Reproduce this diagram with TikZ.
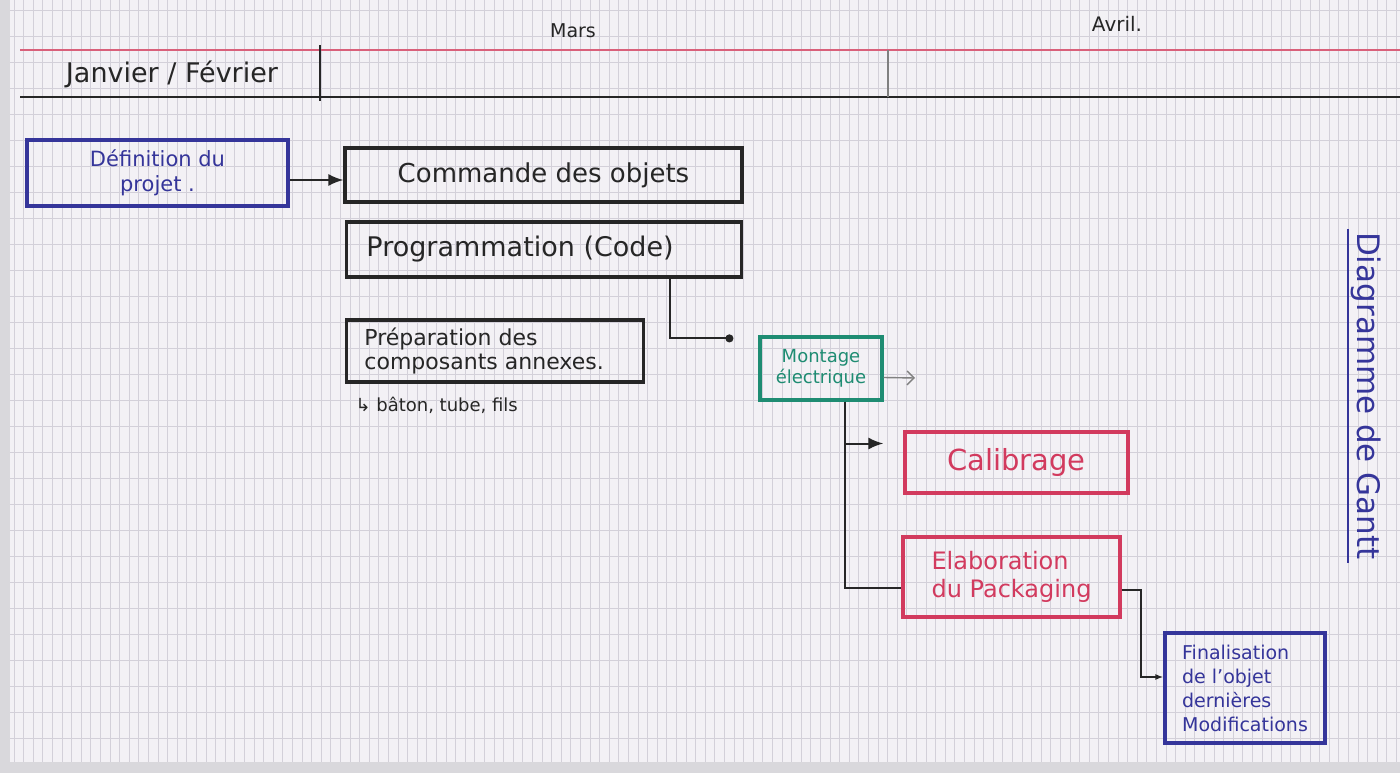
\documentclass[tikz,border=0pt]{standalone}
\usepackage{fontspec}
\setmainfont{DejaVu Sans}
\usetikzlibrary{arrows.meta}
\usetikzlibrary{calc}

\definecolor{paper}{HTML}{F3F1F5}
\definecolor{margin}{HTML}{D9D8DC}
\definecolor{gridline}{HTML}{D3D0D9}
\definecolor{pinkline}{HTML}{D9607A}
\definecolor{bleu}{HTML}{35359A}
\definecolor{vert}{HTML}{1E8C72}
\definecolor{rouge}{HTML}{D23A5E}
\definecolor{encre}{HTML}{262626}

\begin{document}
\begin{tikzpicture}[x=1pt,y=-1pt,
	tache/.style={draw,line width=3.2pt,inner sep=4pt,align=center,font=\fontsize{22}{26}\selectfont},
	lien/.style={draw=encre,line width=2pt},
	mois/.style={text=encre,inner sep=1pt}]
	\useasboundingbox (0,0) rectangle (1400,773);
	\fill[margin] (0,0) rectangle (1400,773);
	\fill[paper] (10,0) rectangle (1400,762);
	\foreach \x in {14,23.6,...,1400} \draw[gridline,line width=0.8pt] (\x,0) -- (\x,762);
	\foreach \y in {10,36,...,762} \draw[gridline,line width=0.8pt] (10,\y) -- (1400,\y);
	\draw[pinkline,line width=2pt] (20,50) -- (1400,50);
	\draw[encre,line width=2pt] (20,97) -- (1400,97);
	\draw[encre,line width=2.8pt] (320,45) -- (320,101);
	\draw[gray,line width=1.6pt] (888,50) -- (888,97);
	\node[mois,font=\fontsize{27}{30}\selectfont] (janfev) at (172,74) {Janvier / Février};
	\node[mois,font=\fontsize{19}{22}\selectfont] (mars) at (573,31) {Mars};
	\node[mois,font=\fontsize{20}{22}\selectfont] (avril) at (1117,24) {Avril.};

	\node[tache,draw=bleu,text=bleu,minimum width=261,minimum height=66,font=\fontsize{21}{25}\selectfont] (def) at (157.5,173) {Définition du\\projet .};
	\node[tache,draw=encre,text=encre,minimum width=397,minimum height=54,font=\fontsize{26}{30}\selectfont] (cmd) at (543.5,175) {Commande des objets};
	\node[tache,draw=encre,text=encre,minimum width=395,minimum height=55,font=\fontsize{27}{30}\selectfont,anchor=west] (prog) at (345,249.5) {Programmation (Code)\hspace*{48pt}};
	\node[tache,draw=encre,text=encre,minimum width=297,minimum height=62,inner sep=3pt,align=left,font=\fontsize{22}{24}\selectfont,anchor=west] (prep) at (345,351) {Préparation des\\composants annexes.\hspace*{22pt}};
	\node[text=encre,font=\fontsize{18}{20}\selectfont,anchor=west] (note) at (352,405) {↳ bâton, tube, fils};
	\node[tache,draw=vert,text=vert,minimum width=122,minimum height=63,inner sep=2pt,font=\fontsize{18}{21}\selectfont] (mont) at (821,368.5) {Montage\\électrique};
	\node[tache,draw=rouge,text=rouge,minimum width=223,minimum height=61,font=\fontsize{29}{32}\selectfont] (cal) at (1016.5,462.5) {Calibrage};
	\node[tache,draw=rouge,text=rouge,minimum width=217,minimum height=80,align=left,font=\fontsize{24}{28}\selectfont] (elab) at (1011.5,577) {Elaboration\\du Packaging};
	\node[tache,draw=bleu,text=bleu,minimum width=160,minimum height=110,inner sep=2pt,align=left,font=\fontsize{19}{24}\selectfont] (fin) at (1245,688) {Finalisation\\de l'objet\\dernières\\Modifications};
	\node[rotate=-90,text=bleu,inner sep=3pt,font=\fontsize{31}{34}\selectfont] (titre) at (1366,396) {Diagramme de Gantt};
	\draw[bleu,line width=2pt] (titre.south west) -- (titre.south east);

	\coordinate (montout) at (915,378);
	\draw[lien,-{Latex[length=15pt,width=12pt]}] (def.east |- cmd.west) ++(0,5) -- ([yshift=-5pt]cmd.west);
	\draw[lien,-{Circle[length=8pt]}] ([xshift=325pt]prog.south west) |- ([xshift=-25pt,yshift=-3pt]mont.north west);
	\draw[gray,line width=1.4pt,-{Straight Barb[length=7pt]}] ([yshift=-9pt]mont.east) -- (montout);
	\draw[lien,-{Latex[length=15pt,width=12pt]}] ([xshift=24pt]mont.south) |- ([xshift=-20pt,yshift=19pt]cal.west);
	\draw[lien] ([xshift=24pt]mont.south) |- ([yshift=-11pt]elab.west);
	\draw[lien,-{Latex[length=8pt]}] ([yshift=-13pt]elab.east) -| ([xshift=-22pt,yshift=11pt]fin.west) -- ([yshift=11pt]fin.west);
\end{tikzpicture}
\end{document}
